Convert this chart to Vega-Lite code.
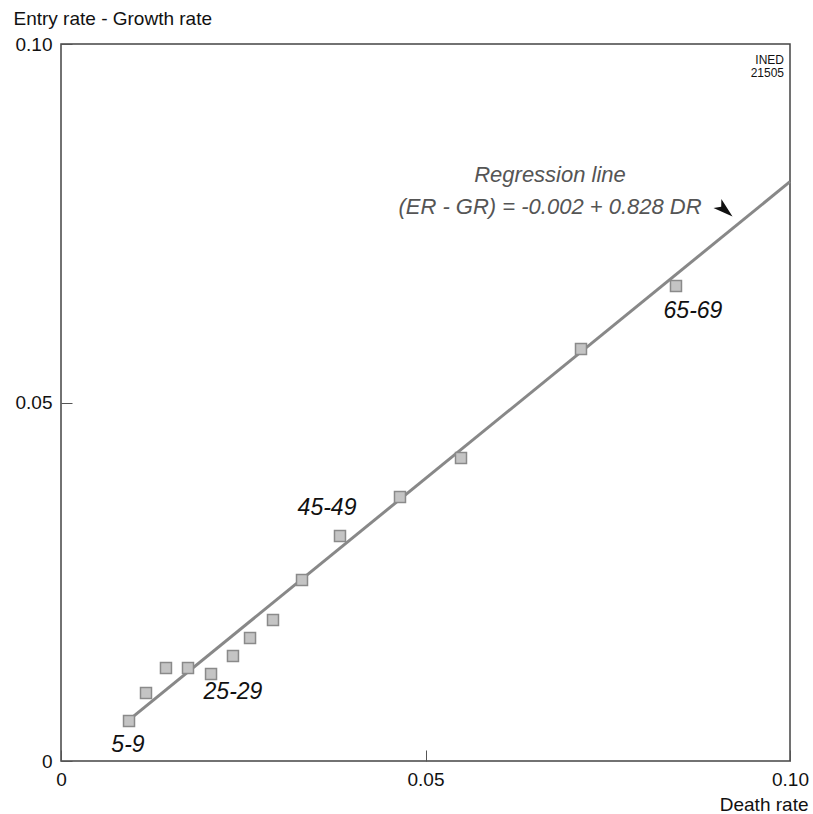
{
  "$schema": "https://vega.github.io/schema/vega-lite/v6.json",
  "width": 729,
  "height": 717,
  "autosize": {"type": "none"},
  "padding": {"left": 61, "top": 44, "right": 23, "bottom": 53},
  "background": "white",
  "config": {
    "font": "Liberation Sans",
    "view": {"stroke": "#444", "strokeWidth": 1.5},
    "axis": {"grid": false, "domain": false}
  },
  "datasets": {
    "points": [
      {"dr": 0.00933, "er": 0.00558},
      {"dr": 0.01166, "er": 0.00948},
      {"dr": 0.01440, "er": 0.01297},
      {"dr": 0.01742, "er": 0.01297},
      {"dr": 0.02058, "er": 0.01213},
      {"dr": 0.02359, "er": 0.01464},
      {"dr": 0.02593, "er": 0.01715},
      {"dr": 0.02908, "er": 0.01967},
      {"dr": 0.03306, "er": 0.02524},
      {"dr": 0.03827, "er": 0.03138},
      {"dr": 0.04650, "er": 0.03682},
      {"dr": 0.05487, "er": 0.04226},
      {"dr": 0.07133, "er": 0.05746},
      {"dr": 0.08436, "er": 0.06625}
    ],
    "regression": [
      {"dr": 0.0093, "er": 0.0057},
      {"dr": 0.1, "er": 0.0808}
    ],
    "ages": [
      {"dr": 0.00919, "er": 0.00223, "label": "5-9"},
      {"dr": 0.02359, "er": 0.00962, "label": "25-29"},
      {"dr": 0.03649, "er": 0.03529, "label": "45-49"},
      {"dr": 0.08669, "er": 0.06276, "label": "65-69"}
    ],
    "annot": [
      {"dr": 0.06708, "er": 0.08173, "label": "Regression line"},
      {"dr": 0.06708, "er": 0.07727, "label": "(ER - GR) = -0.002 + 0.828 DR"}
    ],
    "arrow": [
      {"dr": 0.09108, "er": 0.07685}
    ],
    "source": [
      {"dr": 0.09918, "er": 0.09777, "label": "INED"},
      {"dr": 0.09918, "er": 0.09596, "label": "21505"}
    ]
  },
  "encoding": {
    "x": {
      "field": "dr", "type": "quantitative",
      "scale": {"domain": [0, 0.1], "nice": false, "zero": false},
      "axis": {
        "values": [0, 0.05, 0.1],
        "labelExpr": "datum.value == 0 ? '0' : format(datum.value, '.2f')",
        "tickSize": -11, "tickColor": "#555", "tickWidth": 1,
        "labelFontSize": 19, "labelColor": "#111", "labelPadding": 20,
        "labelFlush": false,
        "title": "Death rate", "titleFontSize": 19, "titleFontWeight": "normal", "titleColor": "#111",
        "titleAnchor": "end", "titleAlign": "right", "titleBaseline": "middle",
        "titleX": 747, "titleY": 43
      }
    },
    "y": {
      "field": "er", "type": "quantitative",
      "scale": {"domain": [0, 0.1], "nice": false, "zero": false},
      "axis": {
        "values": [0, 0.05, 0.1],
        "labelExpr": "datum.value == 0 ? '0' : format(datum.value, '.2f')",
        "tickSize": -11, "tickColor": "#555", "tickWidth": 1,
        "labelFontSize": 19, "labelColor": "#111", "labelPadding": 20,
        "labelFlush": false,
        "title": "Entry rate - Growth rate", "titleFontSize": 19, "titleFontWeight": "normal", "titleColor": "#111",
        "titleAngle": 0, "titleAlign": "left", "titleBaseline": "middle",
        "titleX": -48, "titleY": -26
      }
    }
  },
  "layer": [
    {
      "data": {"name": "regression"},
      "mark": {"type": "line", "color": "#888", "strokeWidth": 3}
    },
    {
      "data": {"name": "points"},
      "mark": {"type": "point", "shape": "square", "filled": true, "size": 121, "fill": "#c4c4c4", "stroke": "#8a8a8a", "strokeWidth": 1.5, "opacity": 1}
    },
    {
      "data": {"name": "ages"},
      "mark": {"type": "text", "fontSize": 23, "fontStyle": "italic", "color": "#111", "align": "center", "baseline": "middle"},
      "encoding": {"text": {"field": "label"}}
    },
    {
      "data": {"name": "annot"},
      "mark": {"type": "text", "fontSize": 22, "fontStyle": "italic", "color": "#555", "align": "center", "baseline": "middle"},
      "encoding": {"text": {"field": "label"}}
    },
    {
      "data": {"name": "arrow"},
      "mark": {"type": "point", "shape": "M-1,-0.6L1,0L-1,0.6L-0.5,0Z", "filled": true, "size": 400, "fill": "#111", "strokeWidth": 0, "angle": 41, "opacity": 1}
    },
    {
      "data": {"name": "source"},
      "mark": {"type": "text", "fontSize": 12, "color": "#111", "align": "right", "baseline": "middle"},
      "encoding": {"text": {"field": "label"}}
    }
  ]
}
